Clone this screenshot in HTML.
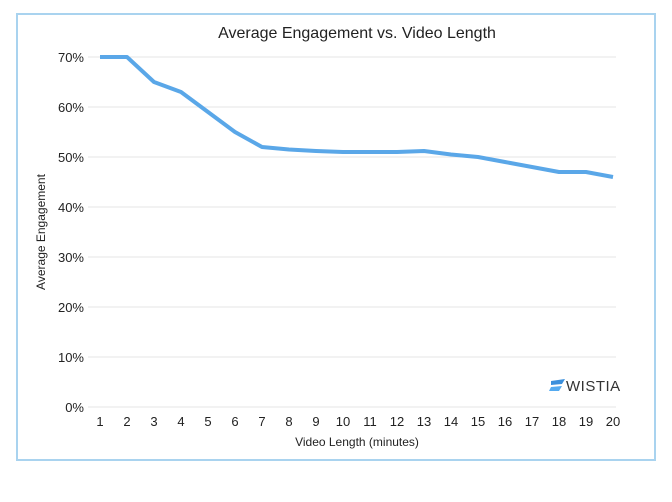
<!DOCTYPE html>
<html><head><meta charset="utf-8"><style>
html,body{margin:0;padding:0;background:#fff;}
svg{display:block;font-family:"Liberation Sans",sans-serif;}
</style></head><body>
<svg id="chart" width="672" height="502">
<rect x="17" y="14" width="638" height="446" fill="#fff" stroke="#a9d3ef" stroke-width="2"/>
<text x="357" y="38" text-anchor="middle" font-size="16" fill="#222">Average Engagement vs. Video Length</text>
<g id="grid"></g><g id="yt"></g><g id="xt"></g>
<path id="line" fill="none" stroke="#5aa7e8" stroke-width="4" stroke-linejoin="round"/>
<text transform="translate(45,232) rotate(-90)" text-anchor="middle" font-size="12" fill="#222">Average Engagement</text>
<text x="357" y="446" text-anchor="middle" font-size="12" fill="#222">Video Length (minutes)</text>
<g>
<path d="M551 381 L565 379 L562 384 L551 385 Z" fill="#3a8fdc"/>
<path d="M551 387 L562 386 L559 391 L549 391 Z" fill="#54aaf0"/>
<text x="566" y="391" font-size="15" fill="#333" letter-spacing="0.5">WISTIA</text>
</g>
</svg>
<script>
const categories=[1,2,3,4,5,6,7,8,9,10,11,12,13,14,15,16,17,18,19,20];
const values=[70,70,65,63,59,55,52,51.5,51.2,51,51,51,51.2,50.5,50,49,48,47,47,46];
const yTicks=[0,10,20,30,40,50,60,70];
const ns="http://www.w3.org/2000/svg";
const xS=v=>100+(v-1)*(513/19);
const yS=v=>407-v*5;
const grid=document.getElementById('grid'),yt=document.getElementById('yt'),xt=document.getElementById('xt');
yTicks.forEach(t=>{
 const l=document.createElementNS(ns,'line');
 l.setAttribute('x1',88);l.setAttribute('x2',616);l.setAttribute('y1',yS(t));l.setAttribute('y2',yS(t));
 l.setAttribute('stroke','#e6e6e6');l.setAttribute('stroke-width',1);
 
 
 grid.appendChild(l);
 const tx=document.createElementNS(ns,'text');
 tx.setAttribute('x',84);tx.setAttribute('y',yS(t)+5);tx.setAttribute('text-anchor','end');
 tx.setAttribute('font-size','13');tx.setAttribute('fill','#222');tx.textContent=t+'%';
 
 
 yt.appendChild(tx);
});
categories.forEach(c=>{
 const tx=document.createElementNS(ns,'text');
 tx.setAttribute('x',xS(c));tx.setAttribute('y',426);tx.setAttribute('text-anchor','middle');
 tx.setAttribute('font-size','13');tx.setAttribute('fill','#222');tx.textContent=c;
 
 
 xt.appendChild(tx);
});
document.getElementById('line').setAttribute('d',values.map((v,i)=>(i?'L':'M')+xS(categories[i])+' '+yS(v)).join(' '));
</script>
</body></html>
